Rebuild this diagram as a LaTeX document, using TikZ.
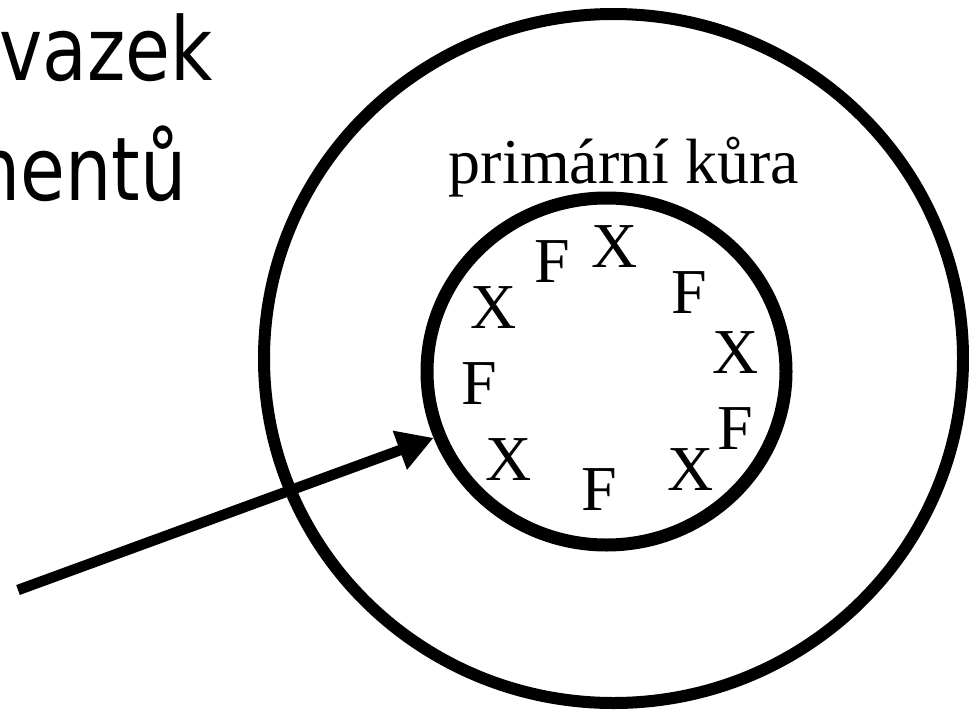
\documentclass[tikz,border=0pt]{standalone}
\usepackage{fontspec}
\setmainfont{Liberation Serif}
\newfontfamily\sansf{DejaVu Sans}
\usetikzlibrary{shapes.geometric,arrows.meta}
\begin{document}
\begin{tikzpicture}[x=1pt,y=-1pt,
  ring/.style={draw=black,ellipse,inner sep=0pt},
  letter/.style={font=\fontsize{64}{64}\selectfont,inner sep=0pt},
  sanstext/.style={font=\sansf\fontsize{88}{88}\selectfont,inner sep=0pt,anchor=base east}]
\useasboundingbox (0,0) rectangle (969,715);
\begin{scope}
\clip (0,0) rectangle (969,715);
\node[sanstext] (t1) at (213,80) {\scalebox{0.83}[1]{vazek}};
\node[sanstext] (t2) at (187,200) {\scalebox{0.83}[1]{mentů}};
\end{scope}
\node[ring,line width=12pt,minimum width=699pt,minimum height=689pt] (outer) at (613.5,358.5) {};
\node[ring,line width=13pt,minimum width=359pt,minimum height=347pt] (inner) at (606.5,371.5) {};
\node[font=\fontsize{64}{64}\selectfont,inner sep=0pt,anchor=base] (lab) at (624,183) {primární kůra};
\node[letter] (f1) at (552,262) {F};
\node[letter] (x1) at (615,247) {X};
\node[letter] (f2) at (689,293) {F};
\node[letter] (x2) at (736,353) {X};
\node[letter] (f3) at (735,429) {F};
\node[letter] (x3) at (691,470) {X};
\node[letter] (f4) at (599,490) {F};
\node[letter] (x4) at (509,460) {X};
\node[letter] (f5) at (479,384) {F};
\node[letter] (x5) at (494,308) {X};
\coordinate (start) at (18,590);
\draw[line width=10.5pt,-{Triangle[length=36pt,width=39pt]}] (start) -- (inner.201);
\end{tikzpicture}
\end{document}
